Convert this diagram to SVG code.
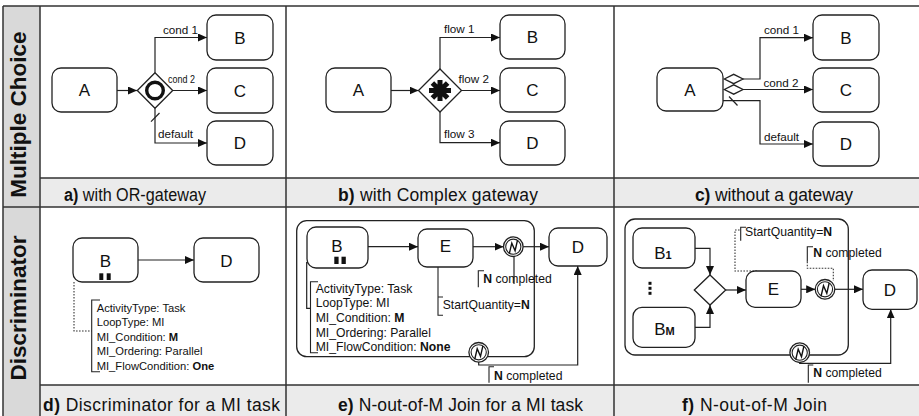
<svg xmlns="http://www.w3.org/2000/svg" xmlns:xlink="http://www.w3.org/1999/xlink" width="919" height="416" viewBox="0 0 919 416">
<style>
text { font-family: "Liberation Sans", Arial, Helvetica, sans-serif; fill: #111; }
.box { fill: #fff; stroke: #222; stroke-width: 1.3; }
.grp { fill: none; stroke: #222; stroke-width: 1.3; }
.ln { fill: none; stroke: #222; stroke-width: 1.2; }
.dot { fill: none; stroke: #333; stroke-width: 1.1; stroke-dasharray: 1.6 1.4; }
.br { fill: none; stroke: #222; stroke-width: 1.1; }
.gw { fill: #fff; stroke: #222; stroke-width: 1.3; }
.tl { fill: none; stroke: #333; stroke-width: 1.5; }
.lbl { font-size: 17px; text-anchor: middle; }
.sm { font-size: 11.7px; }
.ann { font-size: 12.2px; }
.annd { font-size: 11.2px; }
.cap { font-size: 17.5px; }
.hdr { font-size: 22.5px; font-weight: bold; text-anchor: middle; }
</style>
<defs>
<marker id="arr" markerWidth="9" markerHeight="8" refX="9" refY="4" orient="auto" markerUnits="userSpaceOnUse">
<path d="M0,0 L9,4 L0,8 z" fill="#111"/>
</marker>
<g id="nev">
<circle r="9.8" fill="#fff" stroke="#222" stroke-width="1.3"/>
<circle r="7.6" fill="none" stroke="#222" stroke-width="1.1"/>
<path d="M-4,7 L-1.5,-3.5 L1.8,4 L4.2,-6.5" fill="none" stroke="#111" stroke-width="1.4"/>
</g>
</defs>

<!-- table -->
<g id="table">
<rect x="0" y="0" width="919" height="416" fill="#fff"/>
<rect x="3" y="6" width="37" height="410" fill="#d9d9d9"/>
<rect x="40" y="178" width="879" height="29" fill="#ebebeb"/>
<rect x="40" y="385" width="879" height="31" fill="#ebebeb"/>
<path class="tl" d="M3,6 H919 M3,6 V416 M40,6 V416 M40,178 H919 M3,207 H919 M40,385 H919 M286,6 V416 M614,6 V416"/>
<text class="hdr" transform="translate(25.5,114.5) rotate(-90)">Multiple Choice</text>
<text class="hdr" transform="translate(25.5,308) rotate(-90)">Discriminator</text>
<text class="cap" x="64" y="200.5" textLength="142" lengthAdjust="spacingAndGlyphs"><tspan font-weight="bold">a)</tspan> with OR-gateway</text>
<text class="cap" x="338" y="200.5" textLength="200" lengthAdjust="spacing"><tspan font-weight="bold">b)</tspan> with Complex gateway</text>
<text class="cap" x="695" y="200.5" textLength="158" lengthAdjust="spacing"><tspan font-weight="bold">c)</tspan> without a gateway</text>
<text class="cap" x="43" y="411" textLength="237" lengthAdjust="spacing"><tspan font-weight="bold">d)</tspan> Discriminator for a MI task</text>
<text class="cap" x="338" y="411" textLength="245" lengthAdjust="spacing"><tspan font-weight="bold">e)</tspan> N-out-of-M Join for a MI task</text>
<text class="cap" x="682" y="411" textLength="145" lengthAdjust="spacing"><tspan font-weight="bold">f)</tspan> N-out-of-M Join</text>
</g>

<!-- connectors -->
<g id="connectors">
<!-- a -->
<path class="ln" d="M117,90.5 H137" marker-end="url(#arr)"/>
<path class="ln" d="M155,72.7 V37.5 H207" marker-end="url(#arr)"/>
<path class="ln" d="M172.7,90.5 H207" marker-end="url(#arr)"/>
<path class="ln" d="M155,108.3 V143 H207" marker-end="url(#arr)"/>
<path class="ln" d="M151,121.7 L159.5,113"/>
<!-- b -->
<path class="ln" d="M391,90.5 H418.5" marker-end="url(#arr)"/>
<path class="ln" d="M440,69 V37.5 H500" marker-end="url(#arr)"/>
<path class="ln" d="M461.5,90.5 H500" marker-end="url(#arr)"/>
<path class="ln" d="M440,112 V142.7 H500" marker-end="url(#arr)"/>
<!-- c -->
<path class="ln" d="M743,79 H760 V37.7 H813" marker-end="url(#arr)"/>
<path class="ln" d="M743,89.5 H813" marker-end="url(#arr)"/>
<path class="ln" d="M723,100.7 H760 V144 H813" marker-end="url(#arr)"/>
<path class="ln" d="M729,96.5 L737.5,105.5"/>
<!-- d -->
<path class="ln" d="M138,260 H194" marker-end="url(#arr)"/>
<path class="dot" d="M74,282 V331 H91.7"/>
<path class="br" d="M100,300 H91.7 V371.7 H100"/>
<!-- e -->
<path class="ln" d="M368,246.7 H418" marker-end="url(#arr)"/>
<path class="ln" d="M473,246.7 H503.5" marker-end="url(#arr)"/>
<path class="ln" d="M523.1,246.7 H549" marker-end="url(#arr)"/>
<path class="ln" d="M514,256.5 V284"/>
<path class="br" d="M484,270.7 H478.3 V287.3"/>
<path class="ln" d="M306.7,262 V308.3 H310.5"/>
<path class="br" d="M318,281.7 H310.5 V352.7 H318"/>
<path class="br" d="M438,267 V315.3 H443 M438,297 H443"/>
<path class="ln" d="M478.7,362.1 V365 H577.7 V266" marker-end="url(#arr)"/>
<path class="br" d="M494,366.7 H489 V382.7"/>
<!-- f -->
<path class="ln" d="M695,248.3 H710 V275" marker-end="url(#arr)"/>
<path class="ln" d="M695,327.3 H710 V305" marker-end="url(#arr)"/>
<path class="ln" d="M725.7,290 H746" marker-end="url(#arr)"/>
<path class="ln" d="M801,289.3 H815.2" marker-end="url(#arr)"/>
<path class="ln" d="M834.8,289.3 H863" marker-end="url(#arr)"/>
<path class="dot" d="M757,271 H735 V230 H740.7"/>
<path class="br" d="M746,227.3 H740.7 V240.7"/>
<path class="br" d="M813,246.7 H807.3 V261.7"/>
<path class="dot" d="M807.3,261.7 V268.3 H833.3 V281"/>
<path class="ln" d="M799.7,362.5 V363.3 H890.7 V309.3" marker-end="url(#arr)"/>
<path class="br" d="M813.3,365 H808.3 V382.7"/>
</g>

<!-- panel a -->
<g id="a-A"><rect class="box" x="52" y="68" width="65" height="44" rx="9"/><text class="lbl" x="84.5" y="96.3">A</text></g>
<g id="a-B"><rect class="box" x="207" y="15" width="66" height="45" rx="9"/><text class="lbl" x="240" y="43.5">B</text></g>
<g id="a-C"><rect class="box" x="207" y="68" width="66" height="45" rx="9"/><text class="lbl" x="240" y="96.5">C</text></g>
<g id="a-D"><rect class="box" x="207" y="121" width="66" height="44" rx="9"/><text class="lbl" x="240" y="149">D</text></g>
<g id="a-gw"><polygon class="gw" points="155,72.7 172.7,90.5 155,108.3 137.3,90.5"/><circle cx="155" cy="90.5" r="8.3" fill="none" stroke="#111" stroke-width="3.4"/></g>
<g id="a-labels">
<text class="sm" x="163" y="34.3">cond 1</text>
<text class="sm" x="168" y="83.3" textLength="27" lengthAdjust="spacingAndGlyphs">cond 2</text>
<text class="sm" x="158" y="138.3">default</text>
</g>

<!-- panel b -->
<g id="b-A"><rect class="box" x="326" y="68" width="65" height="44" rx="9"/><text class="lbl" x="358.5" y="96.3">A</text></g>
<g id="b-B"><rect class="box" x="500" y="15" width="65" height="44" rx="9"/><text class="lbl" x="532.5" y="43">B</text></g>
<g id="b-C"><rect class="box" x="500" y="68" width="65" height="44" rx="9"/><text class="lbl" x="532.5" y="96">C</text></g>
<g id="b-D"><rect class="box" x="500" y="121" width="65" height="44" rx="9"/><text class="lbl" x="532.5" y="149">D</text></g>
<g id="b-gw"><polygon class="gw" points="440,69 461.5,90.5 440,112 418.5,90.5"/>
<path d="M440,80 V101 M429,90.5 H451 M432.4,82.9 L447.6,98.1 M447.6,82.9 L432.4,98.1" stroke="#111" stroke-width="5"/></g>
<g id="b-labels">
<text class="sm" x="444" y="32.7">flow 1</text>
<text class="sm" x="458.5" y="82.7">flow 2</text>
<text class="sm" x="444" y="137.7">flow 3</text>
</g>

<!-- panel c -->
<g id="c-A"><rect class="box" x="657" y="68" width="66" height="43" rx="9"/><text class="lbl" x="690" y="95.8">A</text></g>
<g id="c-B"><rect class="box" x="813" y="15" width="66" height="45" rx="9"/><text class="lbl" x="846" y="43.5">B</text></g>
<g id="c-C"><rect class="box" x="813" y="68" width="66" height="44" rx="9"/><text class="lbl" x="846" y="96">C</text></g>
<g id="c-D"><rect class="box" x="813" y="122" width="66" height="44" rx="9"/><text class="lbl" x="846" y="150">D</text></g>
<g id="c-split"><polygon class="gw" points="724.3,79 733.7,74.3 743,79 733.7,83.7"/><polygon class="gw" points="724.3,89.5 733.7,84.8 743,89.5 733.7,94.2"/></g>
<g id="c-labels">
<text class="sm" x="764" y="34">cond 1</text>
<text class="sm" x="763.5" y="86.5">cond 2</text>
<text class="sm" x="764" y="141">default</text>
</g>

<!-- panel d -->
<g id="d-B"><rect class="box" x="73" y="238" width="65" height="44" rx="9"/><text class="lbl" x="105.5" y="266.5" font-size="17.5">B</text>
<rect x="99.3" y="273.3" width="4" height="6.7" fill="#111"/><rect x="106.7" y="273.3" width="4" height="6.7" fill="#111"/></g>
<g id="d-D"><rect class="box" x="194" y="238" width="65" height="44" rx="9"/><text class="lbl" x="226.5" y="266.5" font-size="17.5">D</text></g>
<g id="d-ann" class="annd">
<text x="96.7" y="311.5">ActivityType: Task</text>
<text x="96.7" y="326">LoopType: MI</text>
<text x="96.7" y="340.7">MI_Condition: <tspan font-weight="bold">M</tspan></text>
<text x="96.7" y="355.4">MI_Ordering: Parallel</text>
<text x="96.7" y="370">MI_FlowCondition: <tspan font-weight="bold">One</tspan></text>
</g>

<!-- panel e -->
<g id="e-group"><rect class="grp" x="296.7" y="220.7" width="237.6" height="136" rx="10"/></g>
<g id="e-B"><rect class="box" x="307" y="227" width="61" height="41" rx="9"/><text class="lbl" x="337" y="251.7">B</text>
<rect x="334.3" y="256.7" width="4.3" height="7.3" fill="#111"/><rect x="341.5" y="256.7" width="4.3" height="7.3" fill="#111"/></g>
<g id="e-E"><rect class="box" x="418" y="229" width="55" height="38" rx="9"/><text class="lbl" x="445.5" y="251.7">E</text></g>
<g id="e-D"><rect class="box" x="549" y="228" width="58" height="38" rx="9"/><text class="lbl" x="578" y="252.5">D</text></g>
<g id="e-ev1"><use xlink:href="#nev" transform="translate(513.3,246.7)"/></g>
<g id="e-ev2"><use xlink:href="#nev" transform="translate(478.7,352.3)"/></g>
<g id="e-ann" class="ann">
<text x="315.7" y="292.7">ActivityType: Task</text>
<text x="315.7" y="307.3">LoopType: MI</text>
<text x="315.7" y="322">MI_Condition: <tspan font-weight="bold">M</tspan></text>
<text x="315.7" y="336.6">MI_Ordering: Parallel</text>
<text x="315.7" y="351.2">MI_FlowCondition: <tspan font-weight="bold">None</tspan></text>
<text x="442.7" y="309.3">StartQuantity=<tspan font-weight="bold">N</tspan></text>
<text x="483.3" y="283.3"><tspan font-weight="bold">N</tspan> completed</text>
<text x="494" y="380"><tspan font-weight="bold">N</tspan> completed</text>
</g>

<!-- panel f -->
<g id="f-group"><rect class="grp" x="625" y="219" width="223.3" height="136" rx="10"/></g>
<g id="f-B1"><rect class="box" x="633" y="228" width="62" height="40" rx="9"/><text class="lbl" x="663" y="259.3" font-size="17.5">B<tspan font-size="11" font-weight="bold">1</tspan></text></g>
<g id="f-dots"><rect x="648.5" y="281.8" width="3" height="3" fill="#111"/><rect x="648.5" y="286.8" width="3" height="3" fill="#111"/><rect x="648.5" y="291.8" width="3" height="3" fill="#111"/></g>
<g id="f-BM"><rect class="box" x="633" y="307.3" width="62" height="40" rx="9"/><text class="lbl" x="664.5" y="335" font-size="17.5">B<tspan font-size="11" font-weight="bold">M</tspan></text></g>
<g id="f-gw"><polygon class="gw" points="710,275 725.7,290 710,305 694.3,290"/></g>
<g id="f-E"><rect class="box" x="746" y="271" width="55" height="36.3" rx="9"/><text class="lbl" x="773.5" y="295">E</text></g>
<g id="f-D"><rect class="box" x="863" y="270" width="54" height="39.3" rx="9"/><text class="lbl" x="890" y="296">D</text></g>
<g id="f-ev1"><use xlink:href="#nev" transform="translate(825,289.3)"/></g>
<g id="f-ev2"><use xlink:href="#nev" transform="translate(799.7,352.7)"/></g>
<g id="f-ann" class="ann">
<text x="745" y="236">StartQuantity=<tspan font-weight="bold">N</tspan></text>
<text x="813.3" y="257.3"><tspan font-weight="bold">N</tspan> completed</text>
<text x="813.3" y="377.3"><tspan font-weight="bold">N</tspan> completed</text>
</g>
</svg>
